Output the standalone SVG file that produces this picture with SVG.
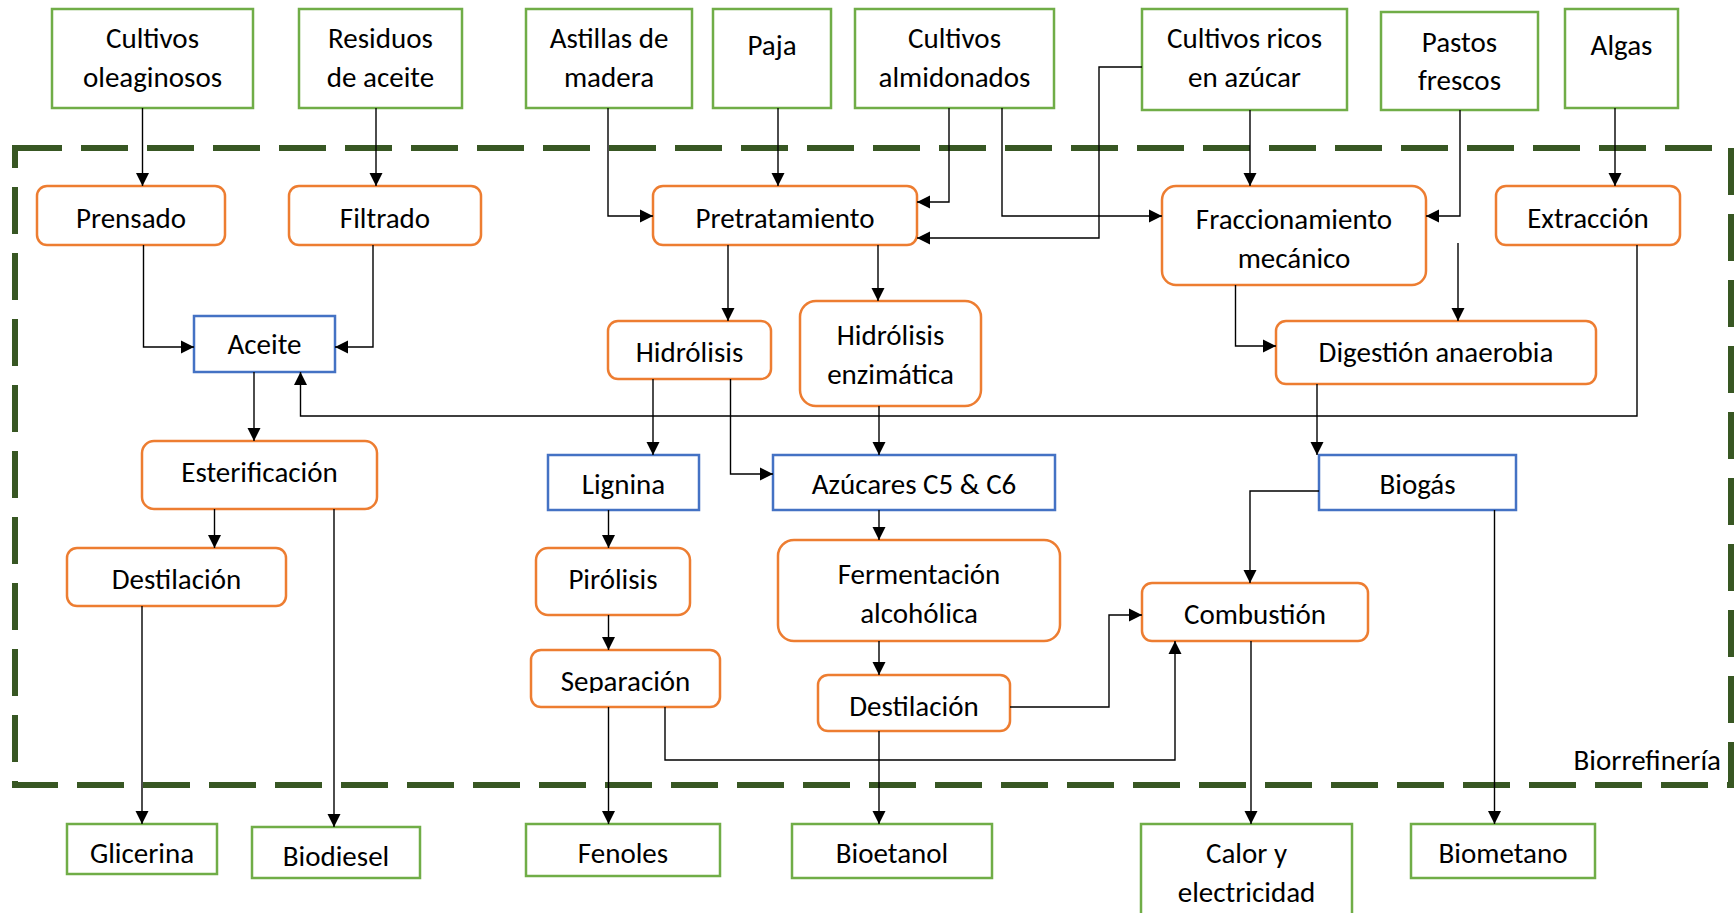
<svg xmlns="http://www.w3.org/2000/svg" width="1734" height="913" viewBox="0 0 1734 913">
<style>
text{font-family:Carlito,Lato,"Liberation Sans",sans-serif;font-size:29px;fill:#000;text-anchor:middle}
.g{fill:#fff;stroke:#70AD47;stroke-width:2.5}
.o{fill:#fff;stroke:#ED7D31;stroke-width:2.5}
.b{fill:#fff;stroke:#4472C4;stroke-width:2.5}
.c path{fill:none;stroke:#000;stroke-width:1.4;marker-end:url(#ah)}
.border{fill:none;stroke:#385723;stroke-width:6;stroke-dasharray:47 19}
</style>
<defs>
<marker id="ah" markerUnits="userSpaceOnUse" markerWidth="14" markerHeight="14" refX="13" refY="7" orient="auto">
<path d="M0,0.5 L13,7 L0,13.5 z" fill="#000"/>
</marker>
<clipPath id="sepclip"><rect x="531" y="650" width="189" height="43"/></clipPath>
</defs>
<rect width="1734" height="913" fill="#fff"/>
<path class="border" d="M15,148 H1731 V785 H15 Z"/>
<text x="1721" y="770" style="text-anchor:end">Biorrefinería</text>

<g id="n-cultivos-oleaginosos"><rect class="g" x="52" y="9" width="201" height="99"/><text x="152.5" y="48">Cultivos</text><text x="152.5" y="87">oleaginosos</text></g>
<g id="n-residuos"><rect class="g" x="299" y="9" width="163" height="99"/><text x="380.5" y="48">Residuos</text><text x="380.5" y="87">de aceite</text></g>
<g id="n-astillas"><rect class="g" x="526" y="9" width="166" height="99"/><text x="609" y="48">Astillas de</text><text x="609" y="87">madera</text></g>
<g id="n-paja"><rect class="g" x="713" y="9" width="118" height="99"/><text x="772" y="55">Paja</text></g>
<g id="n-almidonados"><rect class="g" x="855" y="9" width="199" height="99"/><text x="954.5" y="48">Cultivos</text><text x="954.5" y="87">almidonados</text></g>
<g id="n-ricos"><rect class="g" x="1142" y="9" width="205" height="101"/><text x="1244.5" y="48">Cultivos ricos</text><text x="1244.5" y="87">en azúcar</text></g>
<g id="n-pastos"><rect class="g" x="1381" y="12" width="157" height="98"/><text x="1459.5" y="52">Pastos</text><text x="1459.5" y="90">frescos</text></g>
<g id="n-algas"><rect class="g" x="1565" y="9" width="113" height="99"/><text x="1621.5" y="55">Algas</text></g>

<g id="n-prensado"><rect class="o" x="37" y="186" width="188" height="59" rx="10"/><text x="131" y="228">Prensado</text></g>
<g id="n-filtrado"><rect class="o" x="289" y="186" width="192" height="59" rx="10"/><text x="385" y="228">Filtrado</text></g>
<g id="n-pretratamiento"><rect class="o" x="653" y="186" width="264" height="59" rx="10"/><text x="785" y="228">Pretratamiento</text></g>
<g id="n-fraccionamiento"><rect class="o" x="1162" y="186" width="264" height="99" rx="14"/><text x="1294" y="229">Fraccionamiento</text><text x="1294" y="268">mecánico</text></g>
<g id="n-extraccion"><rect class="o" x="1496" y="186" width="184" height="59" rx="10"/><text x="1588" y="228">Extracción</text></g>

<g id="n-aceite"><rect class="b" x="194" y="316" width="141" height="56"/><text x="264.5" y="354">Aceite</text></g>
<g id="n-hidrolisis"><rect class="o" x="608" y="321" width="163" height="58" rx="10"/><text x="689.5" y="362">Hidrólisis</text></g>
<g id="n-hidrolisis-enz"><rect class="o" x="800" y="301" width="181" height="105" rx="16"/><text x="890.5" y="345">Hidrólisis</text><text x="890.5" y="384">enzimática</text></g>
<g id="n-digestion"><rect class="o" x="1276" y="321" width="320" height="63" rx="10"/><text x="1436" y="362">Digestión anaerobia</text></g>

<g id="n-esterificacion"><rect class="o" x="142" y="441" width="235" height="68" rx="12"/><text x="259.5" y="482">Esterificación</text></g>
<g id="n-lignina"><rect class="b" x="548" y="455" width="151" height="55"/><text x="623.5" y="494">Lignina</text></g>
<g id="n-azucares"><rect class="b" x="773" y="455" width="282" height="55"/><text x="914" y="494">Azúcares C5 &amp; C6</text></g>
<g id="n-biogas"><rect class="b" x="1319" y="455" width="197" height="55"/><text x="1417.5" y="494">Biogás</text></g>

<g id="n-destilacion1"><rect class="o" x="67" y="548" width="219" height="58" rx="10"/><text x="176.5" y="589">Destilación</text></g>
<g id="n-pirolisis"><rect class="o" x="536" y="548" width="154" height="67" rx="12"/><text x="613" y="589">Pirólisis</text></g>
<g id="n-fermentacion"><rect class="o" x="778" y="540" width="282" height="101" rx="16"/><text x="919" y="584">Fermentación</text><text x="919" y="623">alcohólica</text></g>
<g id="n-combustion"><rect class="o" x="1142" y="583" width="226" height="58" rx="10"/><text x="1255" y="624">Combustión</text></g>
<g id="n-separacion"><rect class="o" x="531" y="650" width="189" height="57" rx="10"/><text x="625.5" y="691" clip-path="url(#sepclip)">Separación</text></g>
<g id="n-destilacion2"><rect class="o" x="818" y="675" width="192" height="56" rx="10"/><text x="914" y="716">Destilación</text></g>

<g id="n-glicerina"><rect class="g" x="67" y="824" width="150" height="50"/><text x="142" y="863">Glicerina</text></g>
<g id="n-biodiesel"><rect class="g" x="252" y="827" width="168" height="51"/><text x="336" y="866">Biodiesel</text></g>
<g id="n-fenoles"><rect class="g" x="526" y="824" width="194" height="52"/><text x="623" y="863">Fenoles</text></g>
<g id="n-bioetanol"><rect class="g" x="792" y="824" width="200" height="54"/><text x="892" y="863">Bioetanol</text></g>
<g id="n-calor"><rect class="g" x="1141" y="824" width="211" height="100"/><text x="1246.5" y="863">Calor y</text><text x="1246.5" y="902">electricidad</text></g>
<g id="n-biometano"><rect class="g" x="1411" y="824" width="184" height="54"/><text x="1503" y="863">Biometano</text></g>

<g id="connectors" class="c">
<path d="M142.5,108 V186"/>
<path d="M376,108 V186"/>
<path d="M608,108 V216 H653"/>
<path d="M778,108 V186"/>
<path d="M949,108 V202 H917"/>
<path d="M1002,108 V216 H1162"/>
<path d="M1142,67 H1099 V238 H917"/>
<path d="M1250,110 V186"/>
<path d="M1460,110 V216 H1426"/>
<path d="M1615,108 V186"/>
<path d="M143.5,245 V347 H194"/>
<path d="M373,245 V347 H335"/>
<path d="M728,245 V321"/>
<path d="M878,245 V301"/>
<path d="M1458,243 V321"/>
<path d="M1235.5,285 V346 H1276"/>
<path d="M1637,245 V416 H300.5 V372"/>
<path d="M254,372 V441"/>
<path d="M653,379 V455"/>
<path d="M730.5,379 V474 H773"/>
<path d="M879,406 V455"/>
<path d="M1317,384 V455"/>
<path d="M214.5,509 V548"/>
<path d="M334,509 V827"/>
<path d="M608.5,510 V548"/>
<path d="M879,510 V540"/>
<path d="M1319,491 H1250 V583"/>
<path d="M1494.5,510 V824"/>
<path d="M142,606 V824"/>
<path d="M608.5,615 V650"/>
<path d="M879,641 V675"/>
<path d="M608.5,707 V824"/>
<path d="M665,707 V760 H1175 V641"/>
<path d="M879,731 V824"/>
<path d="M1010,707 H1109 V615 H1142"/>
<path d="M1251,641 V824"/>
</g>
</svg>
